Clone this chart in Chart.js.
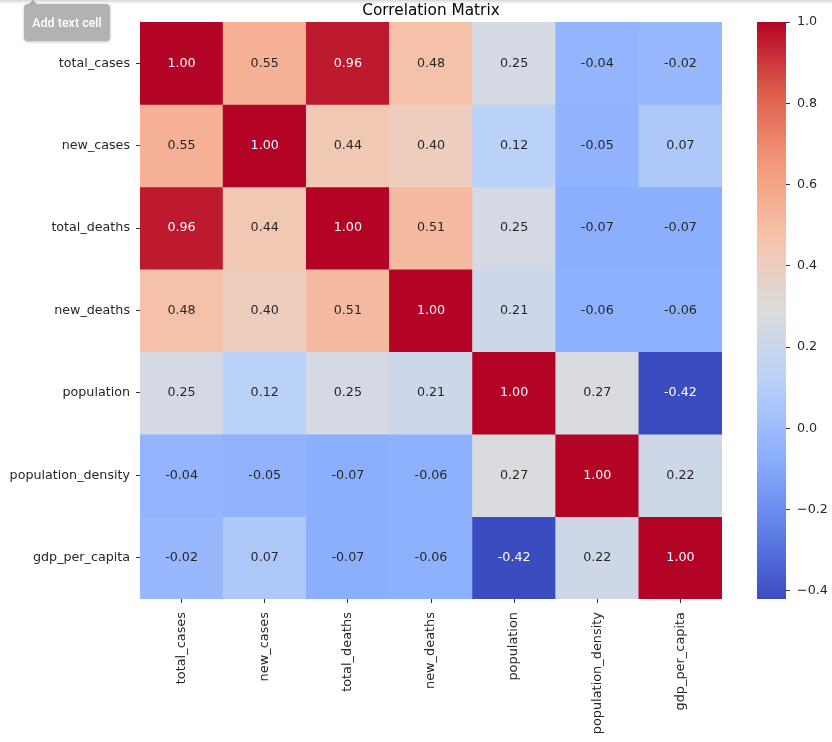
<!DOCTYPE html>
<html>
<head>
<meta charset="utf-8">
<script src="https://cdn.jsdelivr.net/npm/chart.js@4.4.1/dist/chart.umd.min.js"></script>
<style>
  html, body { margin: 0; padding: 0; background: #fff; }
  body { width: 832px; height: 742px; position: relative; overflow: hidden; }
  canvas { position: absolute; top: 0; }
  #heatmap { left: 0; }
  #colorbar { left: 740px; }
  .top-edge {
    position: absolute; left: 0; top: 0; width: 832px; height: 4px;
    background: linear-gradient(#d6d6d6, rgba(255,255,255,0));
  }
  .tip {
    position: absolute; left: 24px; top: 4px; width: 86px; height: 37px;
    background: #b2b2b2; border-radius: 4px;
    box-shadow: 0 1px 3px rgba(0,0,0,0.25);
    color: #fff; font: 500 12.5px Roboto, sans-serif;
    line-height: 37px; text-align: center;
  }
  .tip::before {
    content: ''; position: absolute; left: 5px; top: -4px;
    border-left: 4px solid transparent; border-right: 4px solid transparent;
    border-bottom: 4px solid #a8a8a8;
  }
</style>
</head>
<body>
<canvas id="heatmap" width="740" height="742"></canvas>
<canvas id="colorbar" width="92" height="742"></canvas>
<div class="top-edge"></div>
<div class="tip">Add text cell</div>
<script>
const VARIABLES = ['total_cases', 'new_cases', 'total_deaths', 'new_deaths', 'population', 'population_density', 'gdp_per_capita'];

// one row of the correlation matrix per variable
const TOTAL_CASES = [1.00, 0.55, 0.96, 0.48, 0.25, -0.04, -0.02];
const NEW_CASES = [0.55, 1.00, 0.44, 0.40, 0.12, -0.05, 0.07];
const TOTAL_DEATHS = [0.96, 0.44, 1.00, 0.51, 0.25, -0.07, -0.07];
const NEW_DEATHS = [0.48, 0.40, 0.51, 1.00, 0.21, -0.06, -0.06];
const POPULATION = [0.25, 0.12, 0.25, 0.21, 1.00, 0.27, -0.42];
const POPULATION_DENSITY = [-0.04, -0.05, -0.07, -0.06, 0.27, 1.00, 0.22];
const GDP_PER_CAPITA = [-0.02, 0.07, -0.07, -0.06, -0.42, 0.22, 1.00];

const COLORBAR_TICKS = [1.0, 0.8, 0.6, 0.4, 0.2, 0.0, -0.2, -0.4];

// matplotlib "coolwarm", sampled at 9 even stops
const COOLWARM = ['#3b4cc0', '#6282ea', '#8db0fe', '#b8d0f9', '#dddcdc', '#f5c4ac', '#f49a7b', '#de604d', '#b40426'];

const ROWS = [TOTAL_CASES, NEW_CASES, TOTAL_DEATHS, NEW_DEATHS, POPULATION, POPULATION_DENSITY, GDP_PER_CAPITA];
const allValues = ROWS.flat();
const vmin = Math.min(...allValues);
const vmax = Math.max(...allValues);

const FONT = 'DejaVu Sans';
const TEXT_COLOR = '#262626';

function hexToRgb(hex) {
  const n = parseInt(hex.slice(1), 16);
  return [(n >> 16) & 255, (n >> 8) & 255, n & 255];
}

function coolwarm(t) {
  const x = Math.min(1, Math.max(0, t)) * (COOLWARM.length - 1);
  const i = Math.min(Math.floor(x), COOLWARM.length - 2);
  const f = x - i;
  const a = hexToRgb(COOLWARM[i]);
  const b = hexToRgb(COOLWARM[i + 1]);
  const rgb = a.map((c, k) => Math.round(c + (b[k] - c) * f));
  return `rgb(${rgb.join(',')})`;
}

function cellColor(v) {
  return coolwarm((v - vmin) / (vmax - vmin));
}

// same rule seaborn uses to pick white or dark annotation text
function luminance(rgbStr) {
  const rgb = rgbStr.match(/\d+/g).map((c) => {
    const s = Number(c) / 255;
    return s <= 0.03928 ? s / 12.92 : ((s + 0.055) / 1.055) ** 2.4;
  });
  return 0.2126 * rgb[0] + 0.7152 * rgb[1] + 0.0722 * rgb[2];
}

const annotatePlugin = {
  id: 'annotate',
  afterDatasetsDraw(chart) {
    const { ctx } = chart;
    ctx.save();
    ctx.font = `12.7px ${FONT}`;
    ctx.textAlign = 'center';
    ctx.textBaseline = 'middle';
    chart.data.datasets.forEach((ds, i) => {
      chart.getDatasetMeta(i).data.forEach((bar, j) => {
        const v = ROWS[i][j];
        ctx.fillStyle = luminance(cellColor(v)) <= 0.408 ? '#ffffff' : TEXT_COLOR;
        ctx.fillText(v.toFixed(2), bar.x, (bar.y + bar.base) / 2);
      });
    });
    ctx.restore();
  },
};

const titlePlugin = {
  id: 'plotTitle',
  afterDraw(chart) {
    const { ctx, chartArea } = chart;
    ctx.save();
    ctx.font = `15.3px ${FONT}`;
    ctx.fillStyle = '#000';
    ctx.textAlign = 'center';
    ctx.textBaseline = 'alphabetic';
    ctx.fillText('Correlation Matrix', (chartArea.left + chartArea.right) / 2, 15);
    ctx.restore();
  },
};

Chart.defaults.font.family = FONT;
Chart.defaults.color = TEXT_COLOR;

new Chart(document.getElementById('heatmap'), {
  type: 'bar',
  data: {
    labels: VARIABLES,
    datasets: ROWS.map((row, i) => ({
      label: VARIABLES[i],
      data: row.map(() => 1),
      backgroundColor: row.map(cellColor),
      borderWidth: 0,
      barPercentage: 1,
      categoryPercentage: 1,
    })),
  },
  options: {
    responsive: false,
    animation: false,
    layout: { padding: { top: 22, right: 18, left: 0, bottom: 0 } },
    plugins: {
      legend: { display: false },
      tooltip: { enabled: false },
    },
    scales: {
      x: {
        stacked: true,
        border: { display: false },
        grid: { drawOnChartArea: false, offset: false, tickLength: 4, tickColor: '#333' },
        ticks: { minRotation: 90, maxRotation: 90, padding: 9, font: { size: 12.9 }, color: TEXT_COLOR },
        afterFit: (scale) => { scale.height = 143; },
      },
      y: {
        type: 'linear',
        stacked: true,
        reverse: true,
        min: 0,
        max: VARIABLES.length,
        border: { display: false },
        grid: { drawOnChartArea: false, tickLength: 4, tickColor: '#333' },
        afterBuildTicks: (scale) => {
          scale.ticks = VARIABLES.map((_, i) => ({ value: i + 0.5 }));
        },
        ticks: {
          padding: 6,
          font: { size: 12.7 },
          color: TEXT_COLOR,
          callback: (value, index) => VARIABLES[index],
        },
        afterFit: (scale) => { scale.width = 140; },
      },
    },
  },
  plugins: [annotatePlugin, titlePlugin],
});

new Chart(document.getElementById('colorbar'), {
  type: 'bar',
  data: {
    labels: [''],
    datasets: [{
      data: [[vmin, vmax]],
      borderWidth: 0,
      barPercentage: 1,
      categoryPercentage: 1,
      backgroundColor: (ctx) => {
        const area = ctx.chart.chartArea;
        if (!area) return COOLWARM[0];
        const g = ctx.chart.ctx.createLinearGradient(0, area.bottom, 0, area.top);
        COOLWARM.forEach((c, i) => g.addColorStop(i / (COOLWARM.length - 1), c));
        return g;
      },
    }],
  },
  options: {
    responsive: false,
    animation: false,
    layout: { padding: { top: 22, left: 17, right: 0, bottom: 143 } },
    plugins: {
      legend: { display: false },
      tooltip: { enabled: false },
    },
    scales: {
      x: { display: false },
      y: {
        position: 'right',
        min: vmin,
        max: vmax,
        border: { display: false },
        grid: { drawOnChartArea: false, tickLength: 4, tickColor: '#333' },
        afterBuildTicks: (scale) => {
          scale.ticks = COLORBAR_TICKS.map((value) => ({ value }));
        },
        ticks: {
          padding: 7,
          font: { size: 12.7 },
          color: TEXT_COLOR,
          callback: (value) => value.toFixed(1).replace('-', '\u2212'),
        },
        afterFit: (scale) => { scale.width = 46; },
      },
    },
  },
});
</script>
</body>
</html>
